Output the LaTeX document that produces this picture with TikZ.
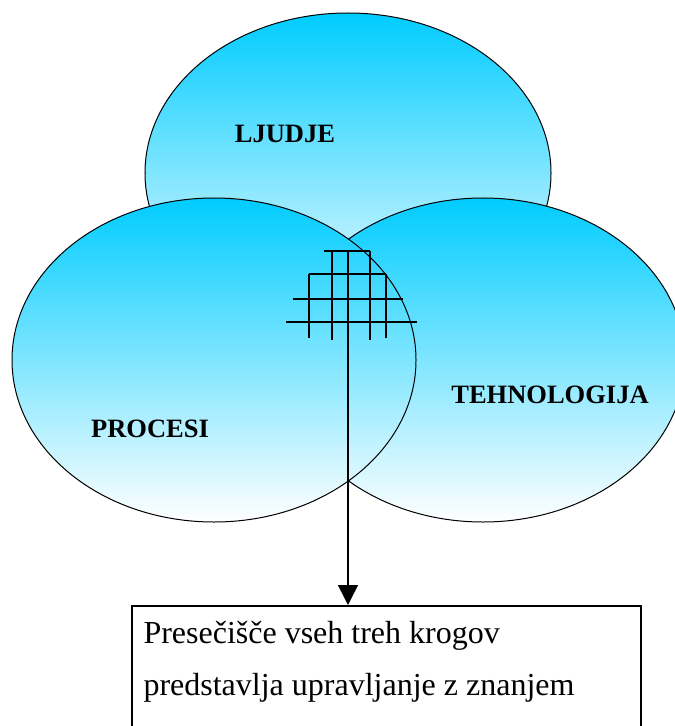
\documentclass[tikz,border=0pt]{standalone}
\usepackage{fontspec}
\setmainfont{Liberation Serif}
\usepackage{xcolor}
\usepackage{tikz}
\usetikzlibrary{shapes.geometric,arrows.meta}
\definecolor{KrugVrh}{HTML}{00CCFF}
\definecolor{KrugSredina}{HTML}{8CDDFF}
\definecolor{KrugDno}{HTML}{FFFFFF}
\begin{document}
\begin{tikzpicture}[x=0.4pt,y=-0.4pt,
  krug/.style={ellipse,draw,line width=0.4pt,inner sep=0pt,top color=KrugVrh,middle color=KrugSredina,bottom color=KrugDno},
  oznaka/.style={anchor=base,inner sep=0pt,font=\fontsize{10.6}{12}\selectfont\bfseries},
  vrstica/.style={anchor=base west,inner sep=0pt,font=\fontsize{12.8}{14}\selectfont},
  mreza/.style={line width=0.6pt},
  strelica/.style={line width=0.6pt,-{Triangle[length=8pt,width=8pt]}}]
\path[use as bounding box] (0,0) rectangle (674,726);
\node[krug,minimum width=162.4pt,minimum height=128pt] (ljudje) at (348,173) {};
\node[krug,minimum width=161.6pt,minimum height=129.6pt] (tehnologija) at (483,360) {};
\node[krug,minimum width=161.6pt,minimum height=129.6pt] (procesi) at (214,360) {};
\node[oznaka] (ljudjeText) at (285,143) {LJUDJE};
\node[oznaka] (procesiText) at (150,437) {PROCESI};
\node[oznaka] (tehnologijaText) at (550,403) {TEHNOLOGIJA};
\draw[mreza] (324,251) -- (370,251);
\draw[mreza] (309,274) -- (386,274);
\draw[mreza] (293,299) -- (403,299);
\draw[mreza] (286,322) -- (417,322);
\draw[mreza] (309,274) -- (309,338);
\draw[mreza] (332,251) -- (332,340);
\draw[mreza] (370,251) -- (370,340);
\draw[mreza] (386,274) -- (386,338);
\coordinate (vrh) at (348,251);
\node[draw,line width=0.6pt,anchor=north west,inner sep=0pt,minimum width=203.6pt,minimum height=60pt] (okvir) at (131,605) {};
\node[vrstica] (red1) at (143,643) {Presečišče vseh treh krogov};
\node[vrstica] (red2) at (143,695) {predstavlja upravljanje z znanjem};
\draw[strelica] (vrh) -- (vrh |- okvir.north);
\end{tikzpicture}
\end{document}
